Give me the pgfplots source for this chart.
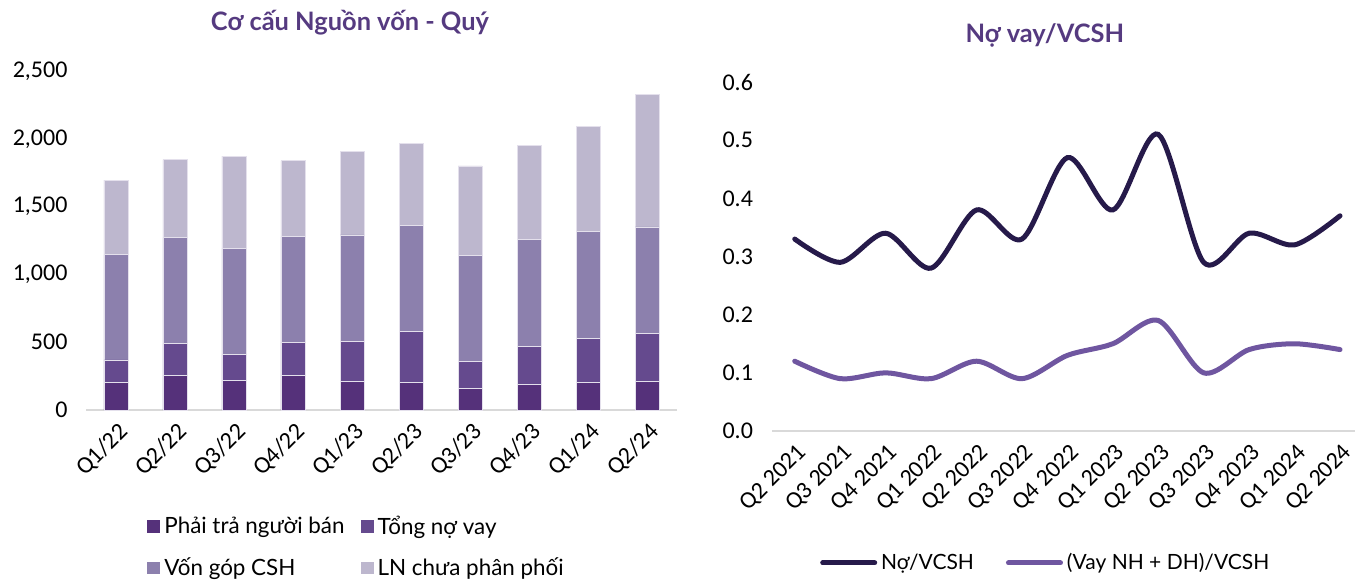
\documentclass[border=0pt]{standalone}
\usepackage{fontspec}
\setmainfont{Lato}
\newfontfamily\carlito{Carlito}
\usepackage{pgfplots}
\pgfplotsset{compat=1.18}
\definecolor{payc}{HTML}{55317A}
\definecolor{debtc}{HTML}{654A8E}
\definecolor{capc}{HTML}{8C80AD}
\definecolor{retc}{HTML}{BDB7CE}
\definecolor{edge}{HTML}{E4E0EC}
\definecolor{titlec}{HTML}{553A80}
\definecolor{rulegray}{HTML}{D9D9D9}
\definecolor{navy}{HTML}{261A4A}
\definecolor{lilac}{HTML}{6F56A0}

\begin{document}
\begin{tikzpicture}
\useasboundingbox (0pt,0pt) rectangle (677.5pt,290pt);
\pgfplotsset{
  base/.style={
    scale only axis, anchor=south west,
    axis x line*=bottom, axis y line*=left,
    y axis line style={draw=none},
    x axis line style={draw=rulegray, line width=1pt},
    major tick length=0pt,
    ticklabel style={font=\carlito\fontsize{12}{12}\selectfont, text=black},
    /pgf/number format/assume math mode=true,
    yticklabel style={xshift=-6pt},
    xticklabel style={rotate=45, anchor=north east, yshift=-1pt, xshift=0pt},
    title style={font=\bfseries\fontsize{12.7}{14}\selectfont, text=titlec, anchor=center},
    legend style={draw=none, fill=none, inner sep=0pt,
      font=\fontsize{11.2}{13}\selectfont},
  },
  barser/.style={fill=#1, draw=edge, line width=0.4pt,
    legend image code/.code={\fill[##1, draw=none] (0pt,-3.2pt) rectangle (6.5pt,3.2pt);}},
  lineser/.style={#1, line width=2.5pt, smooth, tension=0.5, line cap=round,
    legend image code/.code={\draw[##1, line cap=round] (0pt,0pt) -- (26pt,0pt);}},
}

\begin{axis}[base, at={(43.25pt,85pt)}, width=295pt, height=169.5pt,
  ybar stacked, bar width=12pt,
  xmin=-0.5, xmax=9.5, ymin=0, ymax=2500,
  ytick={0,500,1000,1500,2000,2500},
  /pgf/number format/1000 sep={,},
  xtick={0,...,9},
  xticklabels={Q1/22,Q2/22,Q3/22,Q4/22,Q1/23,Q2/23,Q3/23,Q4/23,Q1/24,Q2/24},
  title={Cơ cấu Nguồn vốn - Quý},
  title style={at={(axis description cs:0.4466,1.106)}},
  legend columns=2,
  legend style={at={(axis description cs:0.1025,-0.30)}, anchor=north west,
    row sep=6pt, /tikz/every even column/.append style={column sep=6pt}},
  legend cell align=left]
\addplot[barser=payc] coordinates {(0,202) (1,254) (2,217) (3,254) (4,209)
  (5,204) (6,160) (7,190) (8,204) (9,209)};
\addlegendentry{Phải trả người bán}
\addplot[barser=debtc] coordinates {(0,167) (1,236) (2,192) (3,246) (4,298)
  (5,375) (6,195) (7,278) (8,323) (9,353)};
\addlegendentry{Tổng nợ vay}
\addplot[barser=capc] coordinates {(0,776) (1,781) (2,783) (3,778) (4,784)
  (5,783) (6,783) (7,791) (8,791) (9,788)};
\addlegendentry{Vốn góp CSH}
\addplot[barser=retc] coordinates {(0,550) (1,576) (2,680) (3,562) (4,615)
  (5,601) (6,662) (7,689) (8,773) (9,978)};
\addlegendentry{LN chưa phân phối}
\end{axis}

\begin{axis}[base, at={(386pt,74.5pt)}, width=291.5pt, height=174.5pt,
  xmin=-0.5, xmax=12.33, ymin=0, ymax=0.6,
  ytick={0,0.1,0.2,0.3,0.4,0.5,0.6},
  yticklabel style={/pgf/number format/.cd, fixed, fixed zerofill, precision=1},
  xtick={0,...,12},
  xticklabels={Q2 2021,Q3 2021,Q4 2021,Q1 2022,Q2 2022,Q3 2022,Q4 2022,
    Q1 2023,Q2 2023,Q3 2023,Q4 2023,Q1 2024,Q2 2024},
  title={Nợ vay/VCSH},
  title style={at={(axis description cs:0.468,1.10)}},
  legend columns=2,
  legend style={at={(axis description cs:0.082,-0.378)}, anchor=west,
    font=\fontsize{10.5}{12}\selectfont,
    /tikz/every even column/.append style={column sep=14pt}},
  legend cell align=left]
\addplot[lineser=navy]
  coordinates {(0,0.33) (1,0.29) (2,0.34) (3,0.28) (4,0.38) (5,0.33) (6,0.47)
  (7,0.38) (8,0.51) (9,0.29) (10,0.34) (11,0.32) (12,0.37)};
\addlegendentry{Nợ/VCSH}
\addplot[lineser=lilac]
  coordinates {(0,0.12) (1,0.09) (2,0.10) (3,0.09) (4,0.12) (5,0.09) (6,0.13)
  (7,0.15) (8,0.19) (9,0.10) (10,0.14) (11,0.15) (12,0.14)};
\addlegendentry{(Vay NH + DH)/VCSH}
\end{axis}
\end{tikzpicture}
\end{document}
